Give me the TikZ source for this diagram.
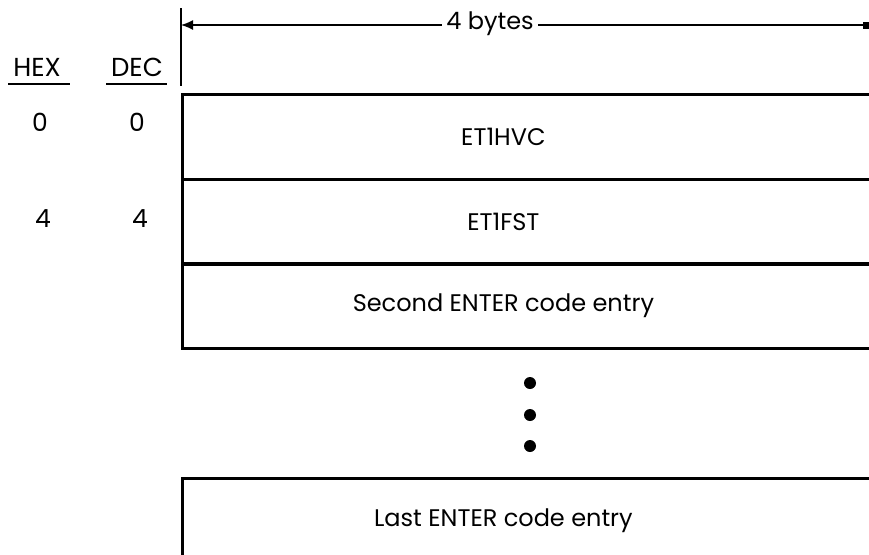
\documentclass[tikz,border=0pt]{standalone}
\usepackage{fontspec}
\setmainfont{Poppins}
\usetikzlibrary{positioning, arrows.meta}
\tikzset{
  field/.style={
    draw,
    line width=1.4pt,
    anchor=north west,
    minimum width=355pt,
    minimum height=42.5pt,
    inner sep=0pt,
    font=\fontsize{12}{14}\selectfont
  },
  offset/.style={
    font=\fontsize{12.5}{14}\selectfont
  },
  colhead/.style={
    font=\fontsize{13}{15}\selectfont,
    inner sep=1pt
  },
  dimline/.style={
    line width=0.7pt,
    {Latex[length=6pt,width=5pt]}-{Square[length=3pt,width=3.5pt]}
  },
  dotmark/.style={
    circle,
    fill=black,
    inner sep=0pt,
    minimum size=6pt
  }
}
\begin{document}
\begin{tikzpicture}[x=0.5pt, y=-0.5pt]
  \useasboundingbox (0,0) rectangle (869,554);
  % column headings
  \node[colhead] (hex) at (37,67) {HEX};
  \node[colhead] (dec) at (137,67) {DEC};
  \draw[line width=0.9pt] (8,84) -- (70,84);
  \draw[line width=0.9pt] (106,84) -- (167,84);
  % width of an entry
  \coordinate (lft) at (181,25);
  \coordinate (rgt) at (869,25);
  \draw[line width=0.9pt] (181,8) -- (181,86);
  \draw[dimline] (lft) -- (rgt);
  \node[fill=white, inner sep=2pt, font=\fontsize{12}{14}\selectfont] (bytes) at (490,24) {4 bytes};
  % entries
  \node[field] (hvc) at (181,93) {\hspace*{-34pt}ET1HVC};
  \node[field] (fst) at (181,178) {\hspace*{-34pt}ET1FST};
  \node[field] (second) at (181,262) {\hspace*{-34pt}Second ENTER code entry};
  \node[field] (last) at (181,477) {\hspace*{-34pt}Last ENTER code entry};
  % offsets
  \node[offset] (h0) at (40,122) {0};
  \node[offset] (d0) at (137,122) {0};
  \node[offset] (h4) at (43,219) {4};
  \node[offset] (d4) at (140,219) {4};
  % ellipsis
  \node[dotmark] (dotA) at (530,383) {};
  \node[dotmark] (dotB) at (530,415) {};
  \node[dotmark] (dotC) at (530,446) {};
\end{tikzpicture}
\end{document}
